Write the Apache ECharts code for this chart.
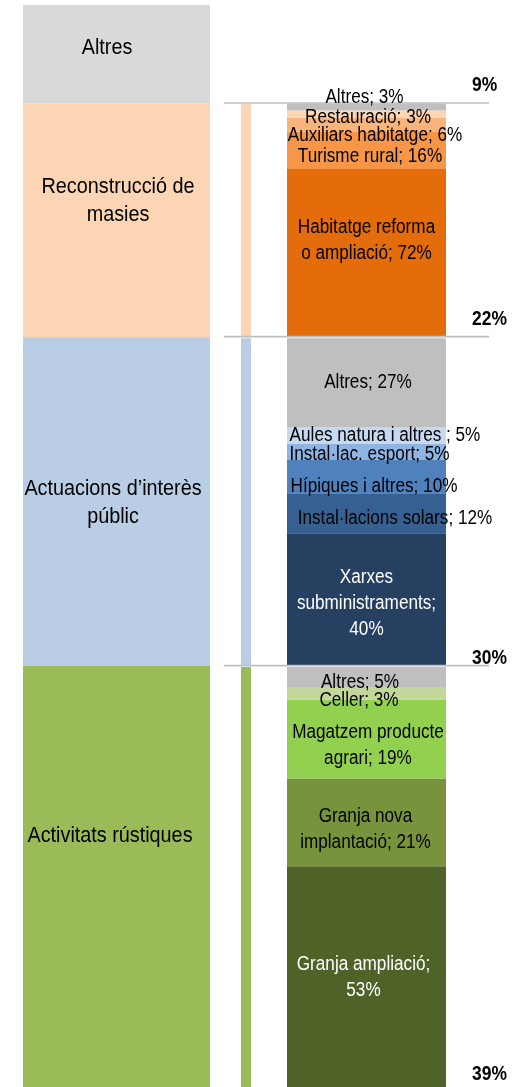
<!DOCTYPE html>
<html><head><meta charset="utf-8">
<script src="https://cdn.jsdelivr.net/npm/echarts@6/dist/echarts.min.js"></script>
<style>html,body{margin:0;padding:0;background:#fff}#c{width:527px;height:1087px}</style>
</head><body><div id="c"></div>
<script>
// ---------------- DATA ----------------
const categories = ['Altres', 'Reconstrucció de\nmasies', 'Actuacions d’interès\npúblic', 'Activitats rústiques'];
const categoryShare = [9.1, 21.6, 30.4, 38.9];        // % of total (labels 9%, 22%, 30%, 39%)

// sub-breakdowns, listed bottom -> top
const masiesItems  = ['Habitatge reforma\no ampliació', 'Turisme rural', 'Auxiliars habitatge', 'Restauració', 'Altres'];
const masiesValues = [72, 16, 6, 3, 3];
const interesItems  = ['Xarxes\nsubministraments', 'Instal·lacions solars', 'Hípiques i altres', 'Instal·lac. esport', 'Aules natura i altres', 'Altres'];
const interesValues = [40, 12, 10, 5, 5, 27];
const rusticItems  = ['Granja ampliació', 'Granja nova\nimplantació', 'Magatzem producte\nagrari', 'Celler', 'Altres'];
const rusticValues = [53, 21, 19, 3, 5];

// ---------------- STYLE / LAYOUT ----------------
const FONT = "'Liberation Sans', Arial, sans-serif";
const catColors = ['#D9D9D9', '#FCD5B5', '#B9CDE5', '#9BBB59'];
const X = { left: [23, 210], thin: [241, 251], right: [287, 446], line: [224, 489], pct: 472 };
const leftLabelOffset = [[-9.5, -6], [1.5, -19], [-3.5, 1], [-6.5, -40.5]];
const pctOffset = [-18.5, -18.2, -7.6, -13];

const groups = [
  null,
  { items: masiesItems, values: masiesValues,
    colors: ['#E46C0A', '#F79646', '#F9B47C', '#FCD5B5', '#BFBFBF'],
    text: ['#000', '#000', '#000', '#000', '#000'],
    sep: ['; ', '; ', '; ', '; ', '; '],
    off: [[0, -12], [3.5, 6], [8.5, 11.5], [1.5, 3.5], [-2, -9.5]] },
  { items: interesItems, values: interesValues,
    colors: ['#254061', '#376092', '#4F81BD', '#8EB4E3', '#C6D9F1', '#BFBFBF'],
    text: ['#fff', '#000', '#000', '#000', '#000', '#000'],
    sep: [';\n', '; ', '; ', '; ', ' ; ', '; '],
    off: [[0, 4.4], [28.5, 5.7], [7.5, 10.3], [3, 3.2], [18.5, 0], [1.5, 1]] },
  { items: rusticItems, values: rusticValues,
    colors: ['#4F6228', '#77933C', '#92D050', '#C3D69B', '#BFBFBF'],
    text: ['#fff', '#000', '#000', '#000', '#000'],
    sep: [';\n', '; ', '; ', '; ', '; '],
    off: [[-3, 1.5], [-1, 7.6], [1.5, 7], [-7.5, 7.8], [-6.5, 6.2]] }
];

// ---------------- BUILD ----------------
const catStart = [], catEnd = [];
let acc = 0;
categoryShare.forEach(v => { catStart.push(acc); acc += v; catEnd.push(acc); });

const rects = [];   // {x:[x0,x1], v:[y0,y1], color, insetTop, insetBottom}
const texts = [];   // {x, v, dy, text, size, scaleX, color, weight, align, lh}
const lines = [];

categories.forEach((name, i) => {
  rects.push({ x: X.left, v: [catStart[i], catEnd[i]], color: catColors[i] });
  const mid = (catStart[i] + catEnd[i]) / 2;
  texts.push({ x: (X.left[0] + X.left[1]) / 2 + leftLabelOffset[i][0], v: mid, dy: leftLabelOffset[i][1],
    text: name, size: 22, scaleX: 0.9, color: '#000', weight: 'normal', align: 'center', lh: 28 });
  texts.push({ x: X.pct, v: catEnd[i], dy: pctOffset[i], text: Math.round(categoryShare[i]) + '%',
    size: 21, scaleX: 0.83, color: '#000', weight: 'bold', align: 'left', lh: 24 });
  if (i > 0) {
    lines.push({ x: X.line, v: catStart[i] });
    const inTop = i > 1, inBot = i < categories.length - 1;
    rects.push({ x: X.thin, v: [catStart[i], catEnd[i]], color: catColors[i], insetTop: inTop, insetBottom: inBot });
    const g = groups[i];
    const sum = g.values.reduce((a, b) => a + b, 0);
    let cum = 0;
    g.values.forEach((val, k) => {
      const y1 = catEnd[i] - cum / sum * categoryShare[i];
      cum += val;
      const y0 = catEnd[i] - cum / sum * categoryShare[i];
      rects.push({ x: X.right, v: [y0, y1], color: g.colors[k],
        insetTop: inTop && k === g.values.length - 1, insetBottom: inBot && k === 0 });
      texts.push({ x: (X.right[0] + X.right[1]) / 2 + g.off[k][0], v: (y0 + y1) / 2, dy: g.off[k][1],
        text: g.items[k] + g.sep[k] + val + '%', size: 19.5, scaleX: 0.88, color: g.text[k],
        weight: 'normal', align: 'center', lh: 26 });
    });
  }
});

const chart = echarts.init(document.getElementById('c'));
chart.setOption({
  animation: false,
  backgroundColor: '#fff',
  grid: { left: 0, right: 0, top: 5, bottom: 0 },
  xAxis: { type: 'value', min: 0, max: 527, show: false },
  yAxis: { type: 'value', min: 0, max: 100, inverse: true, show: false },
  series: [
    { type: 'custom', z: 1, data: rects.map(r => r.v),
      renderItem: (p, api) => {
        const r = rects[p.dataIndex];
        const a = api.coord([r.x[0], api.value(0)]);
        const b = api.coord([r.x[1], api.value(1)]);
        let y0 = a[1] + (r.insetTop ? 1 : 0), y1 = b[1] - (r.insetBottom ? 1 : 0);
        return { type: 'rect', shape: { x: a[0], y: y0, width: b[0] - a[0], height: y1 - y0 },
          style: { fill: r.color } };
      } },
    { type: 'custom', z: 2, data: lines.map(l => l.v),
      renderItem: (p, api) => {
        const l = lines[p.dataIndex];
        const a = api.coord([l.x[0], api.value(0)]);
        const b = api.coord([l.x[1], api.value(0)]);
        return { type: 'line', shape: { x1: a[0], y1: a[1] - 0.5, x2: b[0], y2: b[1] - 0.5 },
          style: { stroke: '#BFBFBF', lineWidth: 1.6 } };
      } },
    { type: 'custom', z: 3, data: texts.map(t => t.v),
      renderItem: (p, api) => {
        const t = texts[p.dataIndex];
        const a = api.coord([t.x, api.value(0)]);
        return { type: 'text', x: a[0], y: a[1] + t.dy, scaleX: t.scaleX,
          style: { text: t.text, fill: t.color, fontSize: t.size, fontFamily: FONT, fontWeight: t.weight,
            align: t.align, verticalAlign: 'middle', lineHeight: t.lh } };
      } }
  ]
});
</script></body></html>
